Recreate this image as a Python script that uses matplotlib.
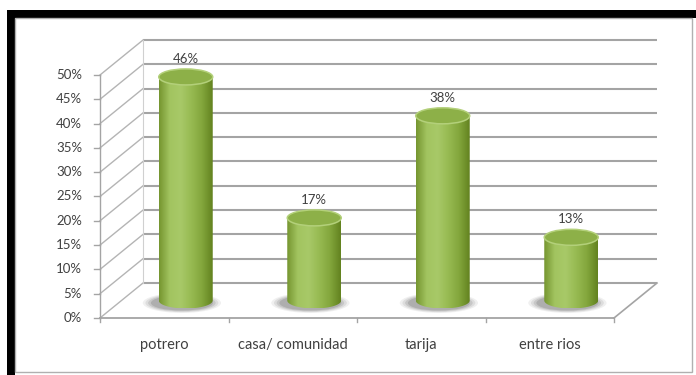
import numpy as np
import matplotlib
matplotlib.use("Agg")
import matplotlib.pyplot as plt
from matplotlib.patches import Ellipse, Rectangle, Polygon
from matplotlib.colors import LinearSegmentedColormap

plt.rcParams['font.family'] = ['Lato', 'DejaVu Sans']

# datos del grafico
categorias = ["potrero", "casa/ comunidad", "tarija", "entre rios"]
valores = [46, 17, 38, 13]
ticks_y = [0, 5, 10, 15, 20, 25, 30, 35, 40, 45, 50]

W, H = 696, 375
fig = plt.figure(figsize=(W / 100, H / 100), dpi=100)
ax = fig.add_axes([0, 0, 1, 1])

# escala: pixeles por categoria y por punto porcentual
x0, ux = 100, 128.5
y0, uy = 318, 4.86
ax.set_xlim(-x0 / ux, (W - x0) / ux)
ax.set_ylim(-(H - y0) / uy, y0 / uy)
ax.axis("off")

# profundidad del efecto 3D
dx = 43 / ux
dy = 35 / uy
n = len(categorias)
ymax = ticks_y[-1]

gris = "#a4a4a4"
texto = "#404040"

# pared del fondo y pared lateral
for t in ticks_y:
    ax.plot([dx, n + dx], [t + dy, t + dy], color=gris, lw=1.5, zorder=1, solid_capstyle="butt")
    ax.plot([0, dx], [t, t + dy], color="#b4b4b4", lw=1.0, zorder=1)
    ax.plot([-0.045, 0], [t, t], color=gris, lw=1.0, zorder=1)
    ax.text(-0.14, t, f"{t}%", ha="right", va="center", fontsize=9.5, color=texto)
ax.plot([dx, dx], [dy, ymax + dy], color="#d0d0d0", lw=0.8, zorder=1)
ax.plot([0, 0], [0, ymax], color=gris, lw=1.0, zorder=1)

# piso
ax.plot([0, n], [0, 0], color=gris, lw=1.3, zorder=1)
ax.plot([n, n + dx], [0, dy], color=gris, lw=1.2, zorder=1)
for i in range(n + 1):
    ax.plot([i, i], [0, -0.9], color=gris, lw=1.0, zorder=1)

for i, c in enumerate(categorias):
    ax.text(i + 0.5, -5.6, c, ha="center", va="center", fontsize=10.5, color=texto)

# cilindros
cmap = LinearSegmentedColormap.from_list(
    "verde", ["#75952f", "#a2c460", "#a8c968", "#97ba52", "#83a63c", "#62821f"])
grad = np.linspace(0, 1, 256).reshape(1, -1)
ancho = 0.42
eh = 16 / uy
base = dy / 2

for i, v in enumerate(valores):
    cx = i + 0.5 + dx / 2
    top = v + base
    # sombra
    for k, a in enumerate([0.10, 0.14, 0.2, 0.28]):
        ax.add_patch(Ellipse((cx - 0.03, base - 0.5), ancho * (1.45 - 0.1 * k),
                             eh * (1.25 - 0.1 * k), color="#707070", alpha=a,
                             lw=0, zorder=2))
    # cuerpo
    th = np.linspace(np.pi, 2 * np.pi, 60)
    pts = [(cx - ancho / 2, top)]
    pts += list(zip(cx + ancho / 2 * np.cos(th), base + eh / 2 * np.sin(th)))
    pts += [(cx + ancho / 2, top)]
    clip = Polygon(pts, closed=True, transform=ax.transData, facecolor="none", edgecolor="none")
    ax.add_patch(clip)
    im = ax.imshow(grad, cmap=cmap, extent=[cx - ancho / 2, cx + ancho / 2, base - eh / 2, top],
                   aspect="auto", zorder=3, interpolation="bilinear")
    im.set_clip_path(clip)
    # tapa
    ax.add_patch(Ellipse((cx, top), ancho, eh, facecolor="#8db048", edgecolor="#b3d07a",
                         lw=1.1, zorder=4))
    ax.text(cx, top + 3.7, f"{v}%", ha="center", va="center", fontsize=9.5, color=texto, zorder=5)

# marco
fig.add_artist(Rectangle((7 / W, 0), 8 / W, (H - 10) / H, transform=fig.transFigure,
                         color="black", lw=0))
fig.add_artist(Rectangle((7 / W, (H - 18) / H), (W - 7) / W, 8 / H, transform=fig.transFigure,
                         color="black", lw=0))
fig.add_artist(Rectangle((15 / W, 3 / H), 677 / W, (H - 21) / H, transform=fig.transFigure,
                         facecolor="none", edgecolor="#b0b0b0", lw=1.0))

fig.savefig("out.png", dpi=100)
